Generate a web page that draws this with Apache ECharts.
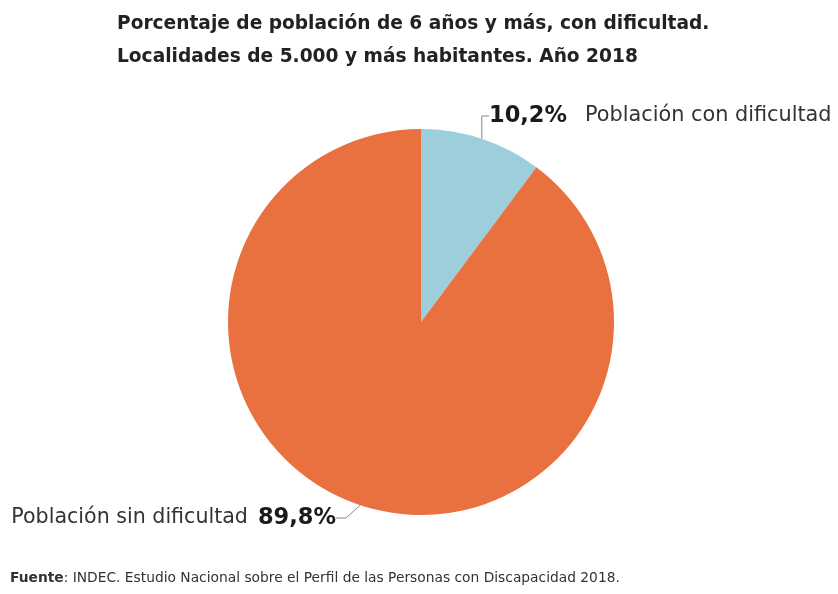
<!DOCTYPE html>
<html>
<head>
<meta charset="utf-8">
<script src="https://cdn.jsdelivr.net/npm/echarts@6/dist/echarts.min.js"></script>
<style>
  html, body { margin: 0; padding: 0; background: #fff; }
  #chart { width: 838px; height: 594px; }
</style>
</head>
<body>
<div id="chart"></div>
<script>
  // datos del gráfico
  var categorias = ['Población con dificultad', 'Población sin dificultad'];
  var valores = [10.2, 89.8];
  var etiquetas = ['10,2%', '89,8%'];
  var colores = ['#9ccfdb', '#e9713f'];

  var fuente = '"DejaVu Sans", Arial, sans-serif';
  var chart = echarts.init(document.getElementById('chart'));

  var datos = categorias.map(function (c, i) {
    return { name: c, value: valores[i], itemStyle: { color: colores[i] } };
  });

  var option = {
    backgroundColor: '#fff',
    animation: false,
    title: [{
      text: 'Porcentaje de población de 6 años y más, con dificultad.\nLocalidades de 5.000 y más habitantes. Año 2018',
      left: 112,
      top: 3,
      textStyle: {
        fontFamily: fuente,
        fontSize: 18.6,
        fontWeight: 'bold',
        color: '#222',
        lineHeight: 33
      }
    }, {
      text: '{b|Fuente}: INDEC. Estudio Nacional sobre el Perfil de las Personas con Discapacidad 2018.',
      left: 5,
      top: 566,
      textStyle: {
        fontFamily: fuente,
        fontSize: 13.8,
        fontWeight: 'normal',
        color: '#333',
        rich: {
          b: { fontFamily: fuente, fontSize: 13.8, fontWeight: 'bold', color: '#333' }
        }
      }
    }],
    series: [{
      type: 'pie',
      center: [421, 322],
      radius: 193,
      startAngle: 90,
      clockwise: true,
      silent: true,
      data: datos,
      label: {
        show: true,
        position: 'outside',
        fontFamily: fuente,
        formatter: function (p) {
          if (p.dataIndex === 0) {
            return '{p|' + etiquetas[0] + '}{a|' + p.name + '}';
          }
          return '{b|' + p.name + '}{p|' + etiquetas[1] + '}';
        },
        rich: {
          p: { fontFamily: fuente, fontSize: 22.5, fontWeight: 'bold', color: '#1a1a1a' },
          a: { fontFamily: fuente, fontSize: 20.8, color: '#333', padding: [0, 0, 0, 18] },
          b: { fontFamily: fuente, fontSize: 20.6, color: '#333', padding: [0, 10, 0, 0] }
        }
      },
      labelLine: {
        show: true,
        length: 10,
        length2: 10,
        lineStyle: { color: '#888', width: 1 }
      },
      labelLayout: function (p) {
        if (p.dataIndex === 0) {
          return { x: 489, y: 116, align: 'left', verticalAlign: 'middle' };
        }
        return { x: 336, y: 518, align: 'right', verticalAlign: 'middle' };
      }
    }]
  };

  chart.setOption(option);
</script>
</body>
</html>
